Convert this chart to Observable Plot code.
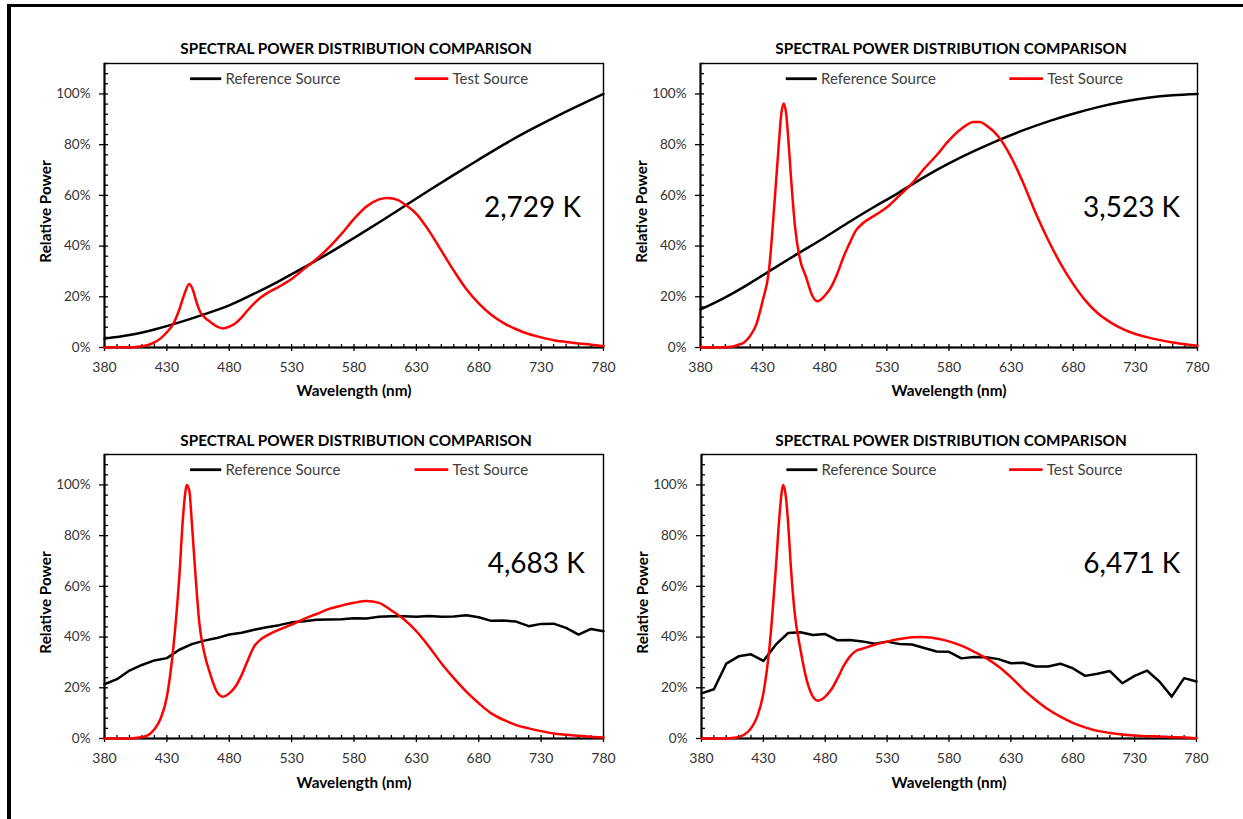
<!DOCTYPE html>
<html><head><meta charset="utf-8">
<script src="https://cdn.jsdelivr.net/npm/d3@7"></script>
<script src="https://cdn.jsdelivr.net/npm/@observablehq/plot@0.6"></script>
<style>
body{margin:0;background:#fff;}
#wrap{position:relative;width:1243px;height:819px;overflow:hidden;background:#fff;font-family:Lato,sans-serif}
.bt{position:absolute;background:#000}
</style></head><body>
<div id="wrap">
 <div class="bt" style="left:7px;top:4px;width:1236px;height:3px"></div>
 <div class="bt" style="left:7px;top:4px;width:4px;height:815px"></div>
</div>
<script>
// ---- data ----
const chartTitle = "SPECTRAL POWER DISTRIBUTION COMPARISON";
const legendLabels = ["Reference Source", "Test Source"];
const xTicks = [380, 430, 480, 530, 580, 630, 680, 730, 780];
const yTicks = [0, 0.2, 0.4, 0.6, 0.8, 1.0];
const cctLabels = ["2,729 K", "3,523 K", "4,683 K", "6,471 K"];

const wl20 = [380,400,420,440,460,480,500,520,540,560,580,600,620,640,660,680,700,720,740,760,780];
const ref2729 = [0.035,0.049,0.071,0.099,0.131,0.166,0.212,0.262,0.316,0.372,0.432,0.493,0.556,0.619,0.681,0.741,0.800,0.855,0.906,0.954,1.0];
const ref3523 = [0.150,0.198,0.254,0.315,0.375,0.434,0.496,0.555,0.612,0.672,0.726,0.774,0.818,0.857,0.892,0.922,0.948,0.969,0.985,0.995,1.0];

const wl10 = [380,390,400,410,420,430,440,450,460,470,480,490,500,510,520,530,540,550,560,570,580,590,600,610,620,630,640,650,660,670,680,690,700,710,720,730,740,750,760,770,780];
const ref4683 = [0.214,0.234,0.268,0.290,0.308,0.317,0.350,0.372,0.386,0.396,0.410,0.417,0.429,0.439,0.447,0.458,0.462,0.468,0.469,0.470,0.474,0.473,0.480,0.482,0.482,0.480,0.483,0.480,0.481,0.486,0.478,0.464,0.465,0.461,0.443,0.452,0.453,0.436,0.410,0.432,0.423];
const ref6471 = [0.178,0.194,0.295,0.324,0.332,0.306,0.370,0.416,0.419,0.408,0.412,0.387,0.388,0.383,0.374,0.382,0.373,0.371,0.357,0.343,0.342,0.316,0.321,0.320,0.313,0.297,0.299,0.284,0.284,0.295,0.277,0.247,0.255,0.266,0.218,0.247,0.268,0.225,0.165,0.238,0.225];

const test2729 = [[380,0],[390,0.001],[400,0],[405,0.002],[410,0.005],[415,0.01],[420,0.02],[425,0.036],[430,0.06],[435,0.092],[440,0.15],[444,0.21],[448,0.25],[451,0.225],[454,0.175],[457,0.138],[460,0.12],[465,0.1],[470,0.083],[475,0.075],[480,0.082],[485,0.096],[490,0.119],[495,0.148],[500,0.174],[505,0.196],[510,0.213],[520,0.24],[530,0.27],[540,0.31],[550,0.349],[560,0.395],[570,0.448],[580,0.507],[590,0.556],[600,0.584],[607,0.59],[615,0.582],[620,0.567],[630,0.527],[640,0.461],[650,0.382],[660,0.303],[670,0.231],[680,0.174],[690,0.129],[700,0.096],[710,0.072],[720,0.053],[730,0.04],[740,0.029],[750,0.022],[760,0.016],[770,0.011],[780,0.005]];
const test3523 = [[380,0.002],[390,0],[400,0.001],[405,0.003],[410,0.01],[415,0.02],[420,0.046],[425,0.092],[430,0.184],[435,0.3],[440,0.6],[443,0.8],[445,0.92],[447,0.962],[449,0.92],[451,0.8],[453,0.66],[456,0.48],[460,0.35],[465,0.277],[470,0.204],[474,0.182],[480,0.204],[485,0.237],[490,0.29],[495,0.356],[500,0.411],[505,0.461],[510,0.487],[520,0.52],[530,0.553],[540,0.599],[550,0.646],[560,0.705],[570,0.758],[580,0.817],[590,0.863],[600,0.889],[605,0.889],[610,0.876],[620,0.83],[630,0.751],[640,0.646],[650,0.527],[660,0.422],[670,0.329],[680,0.25],[690,0.184],[700,0.134],[710,0.099],[720,0.072],[730,0.053],[740,0.04],[750,0.029],[760,0.02],[770,0.013],[780,0.007]];
const test4683 = [[380,0],[390,0],[400,0],[405,0.002],[410,0.006],[415,0.013],[420,0.036],[425,0.079],[430,0.165],[435,0.35],[440,0.64],[443,0.878],[445,0.978],[446,1.0],[448,0.978],[450,0.852],[453,0.64],[456,0.456],[460,0.337],[465,0.251],[470,0.185],[475,0.165],[480,0.178],[485,0.205],[490,0.251],[495,0.31],[500,0.363],[505,0.39],[510,0.406],[520,0.429],[530,0.449],[540,0.472],[550,0.491],[560,0.511],[570,0.524],[580,0.535],[590,0.542],[600,0.535],[610,0.505],[620,0.47],[630,0.423],[640,0.363],[650,0.297],[660,0.238],[670,0.185],[680,0.139],[690,0.099],[700,0.073],[710,0.053],[720,0.04],[730,0.029],[740,0.02],[750,0.015],[760,0.011],[770,0.007],[780,0.004]];
const test6471 = [[380,0],[390,0],[400,0],[405,0.002],[410,0.006],[415,0.017],[420,0.04],[425,0.086],[430,0.178],[435,0.363],[440,0.667],[443,0.878],[445,0.98],[446,1.0],[448,0.96],[450,0.85],[452,0.693],[455,0.509],[460,0.35],[465,0.231],[470,0.165],[474,0.149],[480,0.165],[485,0.194],[490,0.238],[495,0.287],[500,0.324],[505,0.346],[510,0.354],[520,0.37],[530,0.382],[540,0.392],[550,0.399],[557,0.4],[565,0.398],[570,0.394],[580,0.383],[590,0.366],[600,0.343],[610,0.317],[620,0.284],[630,0.242],[640,0.194],[650,0.152],[660,0.115],[670,0.086],[680,0.062],[690,0.044],[700,0.03],[710,0.022],[720,0.016],[730,0.012],[740,0.009],[750,0.008],[760,0.005],[770,0.004],[780,0.001]];

// ---- drawing ----
const minorX = d3.range(380, 781, 10);
const minorY = d3.range(0, 1.1201, 0.04);
const FONT = "Lato, 'Open Sans', sans-serif";

function panel(o) {
  const refData = o.refWl.map((w, i) => ({w, v: o.ref[i]}));
  const testData = o.test.map(([w, v]) => ({w, v}));
  const chart = Plot.plot({
    width: o.width, height: o.height,
    marginLeft: o.ml, marginRight: o.mr, marginTop: o.mt, marginBottom: o.mb,
    x: {domain: [380, 780]},
    y: {domain: [0, 1.12]},
    style: {fontFamily: FONT, fontSize: "13px", background: "transparent", overflow: "visible"},
    marks: [
      Plot.frame({stroke: "#000", strokeWidth: 1.4}),
      Plot.ruleX(minorX, {x: d => d, y1: 0, y2: 0.012, stroke: "#000", strokeWidth: 1.3}),
      Plot.ruleY(minorY, {y: d => d, x1: 380, x2: 383.2, stroke: "#000", strokeWidth: 1.3}),
      Plot.axisX({ticks: xTicks, tickSize: 4, tickPadding: 11, tickFormat: d3.format("d"), label: null, stroke: "#000", fill: "#333", fontSize: 14, strokeWidth: 1.3}),
      Plot.axisY({ticks: yTicks, tickSize: 5, tickPadding: 9, tickFormat: d3.format(".0%"), label: null, stroke: "#000", fill: "#333", fontSize: 13.5, strokeWidth: 1.3}),
      Plot.ruleY([0], {stroke: "#000", strokeWidth: 2}),
      Plot.ruleX([380], {stroke: "#000", strokeWidth: 2}),
      Plot.line(refData, {x: "w", y: "v", stroke: "#000", strokeWidth: 2.5, curve: o.refCurve}),
      Plot.line(testData, {x: "w", y: "v", stroke: "#ff0000", strokeWidth: 2.5, curve: "monotone-x"}),
      // legend
      Plot.ruleY([1.06], {x1: 449, x2: 474, stroke: "#000", strokeWidth: 2.8}),
      Plot.ruleY([1.06], {x1: 629, x2: 656, stroke: "#ff0000", strokeWidth: 2.8}),
      Plot.text([legendLabels[0]], {x: 477, y: 1.06, text: d => d, textAnchor: "start", fontSize: 15, fill: "#404040"}),
      Plot.text([legendLabels[1]], {x: 659, y: 1.06, text: d => d, textAnchor: "start", fontSize: 15, fill: "#404040"}),
      // CCT annotation
      Plot.text([o.cct], {x: o.cctX, y: o.cctY, text: d => d, textAnchor: "end", fontSize: 28, fill: "#000"}),
      // title and axis titles
      Plot.text([chartTitle], {frameAnchor: "top", dy: o.titleDy, dx: 2, text: d => d, textAnchor: "middle", lineAnchor: "middle", fontSize: 15.3, fontWeight: 700, fill: "#000"}),
      Plot.text(["Relative Power"], {frameAnchor: "left", rotate: -90, dx: -58, dy: 6, text: d => d, textAnchor: "middle", lineAnchor: "middle", fontSize: 15.3, fontWeight: 700, fill: "#000"}),
      Plot.text(["Wavelength (nm)"], {frameAnchor: "bottom", dy: o.xlabDy, text: d => d, textAnchor: "middle", lineAnchor: "middle", fontSize: 15.3, fontWeight: 700, fill: "#000"})
    ]
  });
  chart.style.position = "absolute";
  chart.style.left = o.left + "px";
  chart.style.top = o.top + "px";
  document.getElementById("wrap").appendChild(chart);
}

panel({left: 0, top: 0, width: 620, height: 410, ml: 104, mr: 17, mt: 63, mb: 63,
  refWl: wl20, ref: ref2729, refCurve: "natural", test: test2729, cct: cctLabels[0], cctX: 762, cctY: 0.55, titleDy: -14, xlabDy: 44});
panel({left: 620, top: 0, width: 623, height: 410, ml: 80, mr: 46, mt: 63, mb: 63,
  refWl: wl20, ref: ref3523, refCurve: "natural", test: test3523, cct: cctLabels[1], cctX: 766, cctY: 0.55, titleDy: -14, xlabDy: 44});
panel({left: 0, top: 410, width: 620, height: 409, ml: 104, mr: 17, mt: 44, mb: 81,
  refWl: wl10, ref: ref4683, refCurve: "linear", test: test4683, cct: cctLabels[2], cctX: 765, cctY: 0.69, titleDy: -13, xlabDy: 45});
panel({left: 620, top: 410, width: 623, height: 409, ml: 81, mr: 47, mt: 44, mb: 81,
  refWl: wl10, ref: ref6471, refCurve: "linear", test: test6471, cct: cctLabels[3], cctX: 767, cctY: 0.69, titleDy: -13, xlabDy: 45});
</script>
</body></html>
